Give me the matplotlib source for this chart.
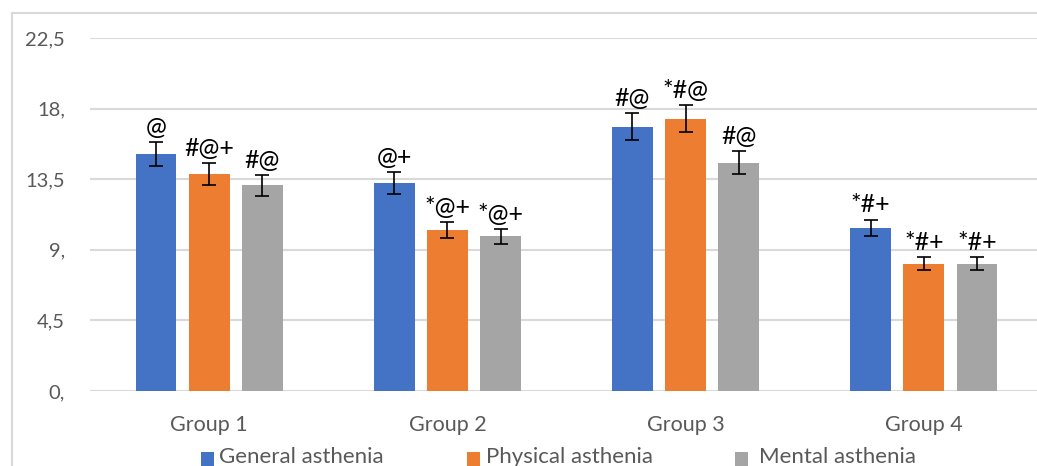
import matplotlib
matplotlib.use("Agg")
import matplotlib.pyplot as plt
from matplotlib.patches import Rectangle
import numpy as np

groups = ["Group 1", "Group 2", "Group 3", "Group 4"]
series = ["General asthenia", "Physical asthenia", "Mental asthenia"]
general = [15.1, 13.25, 16.85, 10.4]
physical = [13.85, 10.25, 17.35, 8.1]
mental = [13.1, 9.85, 14.55, 8.1]
general_err = [0.75, 0.68, 0.85, 0.53]
physical_err = [0.7, 0.5, 0.87, 0.41]
mental_err = [0.65, 0.48, 0.75, 0.41]
general_lbl = ["@", "@+", "#@", "*#+"]
physical_lbl = ["#@+", "*@+", "*#@", "*#+"]
mental_lbl = ["#@", "*@+", "#@", "*#+"]
yticks = [0, 4.5, 9, 13.5, 18, 22.5]
ytick_labels = ["0,", "4,5", "9,", "13,5", "18,", "22,5"]

colors = ["#4472C4", "#ED7D31", "#A5A5A5"]
W, H = 1037, 466
plt.rcParams['font.family'] = ['Lato', 'DejaVu Sans']
fig = plt.figure(figsize=(W / 100, H / 100), dpi=100)

# outer chart border
fig.patches.append(Rectangle((12 / W, -0.1), 1.2, 1 - 13 / H + 0.1, transform=fig.transFigure,
                             fill=False, edgecolor="#d9d9d9", linewidth=1.5, zorder=0))

left, right = 90 / W, 1043 / W
bottom, top = 1 - 391 / H, 1 - 38 / H
ax = fig.add_axes([left, bottom, right - left, top - bottom])

x = np.arange(len(groups))
bw = 0.172
step = 0.223
data = [general, physical, mental]
errs = [general_err, physical_err, mental_err]
lbls = [general_lbl, physical_lbl, mental_lbl]
for i in range(3):
    xs = x + (i - 1) * step
    ax.bar(xs, data[i], width=bw, color=colors[i], zorder=3, label=series[i])
    ax.errorbar(xs, data[i], yerr=errs[i], fmt="none", ecolor="black",
                elinewidth=1.2, capsize=5, capthick=1.2, zorder=4)
    for xx, v, e, t in zip(xs, data[i], errs[i], lbls[i]):
        ax.text(xx, v + e + 0.2, t, ha="center", va="bottom", fontsize=18,
                color="black", zorder=5)

ax.set_xlim(-0.5, 3.5)
ax.set_ylim(0, 22.5)
ax.set_yticks(yticks)
ax.set_yticklabels(ytick_labels)
ax.grid(axis="y", color="#d9d9d9", linewidth=1.5, zorder=0)
ax.set_axisbelow(True)
for s in ["top", "right", "left", "bottom"]:
    ax.spines[s].set_visible(False)
ax.tick_params(axis="y", length=0, pad=18, labelsize=14.5, labelcolor="#595959")
ax.set_xticks(x)
ax.set_xticklabels(groups)
ax.tick_params(axis="x", length=0, pad=17, labelsize=15.5, labelcolor="#595959")

# legend (manual, Excel-style)
base_y = 1 - 463 / H
sq = 13
for (sx, tx), c, name in zip([(201, 219), (467, 486), (735, 759)], colors, series):
    fig.patches.append(Rectangle((sx / W, 1 - 466 / H), sq / W, 14 / H,
                                 transform=fig.transFigure, facecolor=c, edgecolor="none"))
    fig.text(tx / W, base_y, name, ha="left", va="baseline", fontsize=16, color="#595959")

fig.savefig("out.png", dpi=100)
